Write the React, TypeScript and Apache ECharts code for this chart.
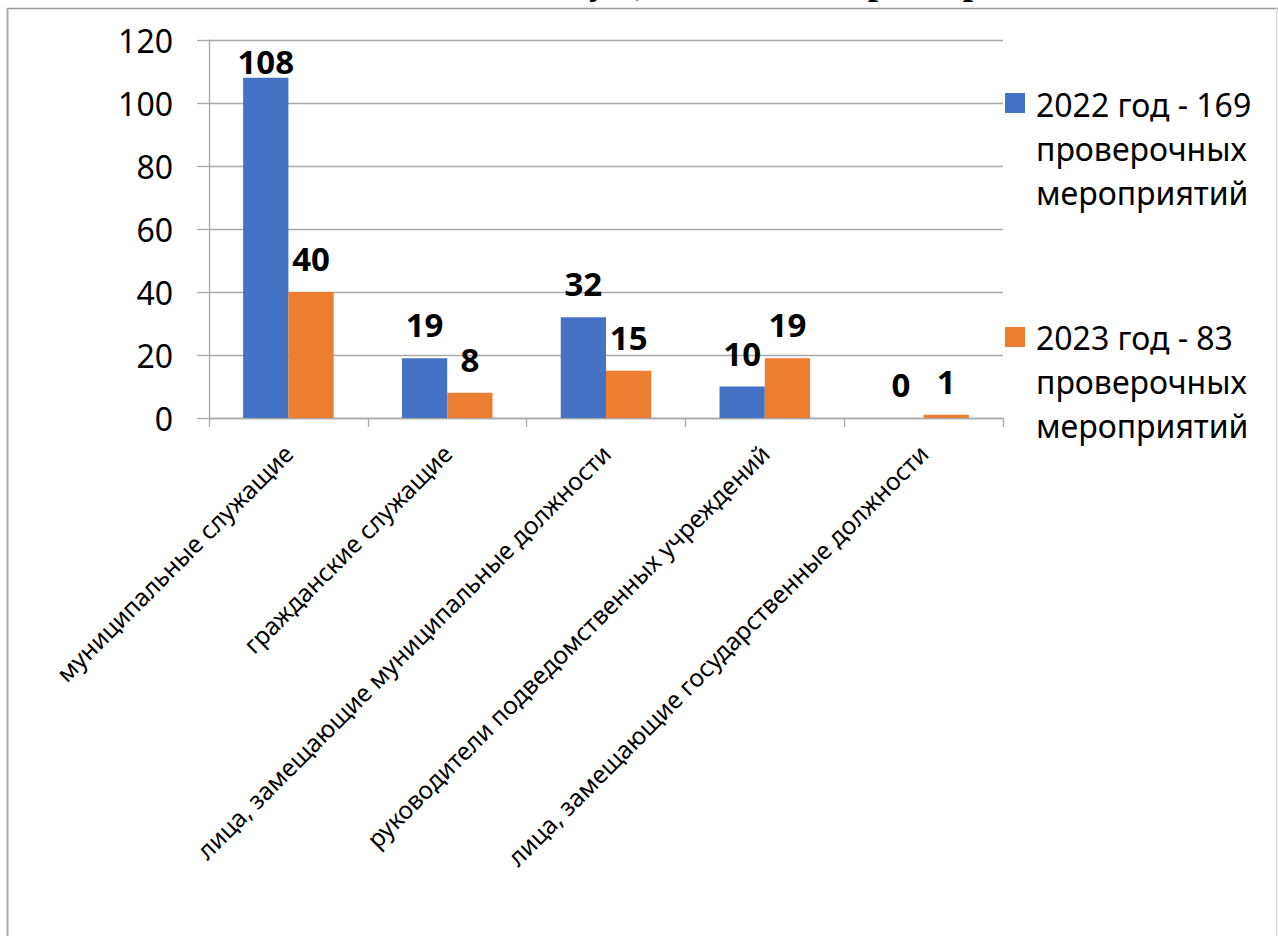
import React, { useEffect, useRef } from "react";
import * as echarts from "echarts";

const titleText = "обязательствах имущественного характера";

const categories = [
  "муниципальные служащие",
  "гражданские служащие",
  "лица, замещающие муниципальные должности",
  "руководители подведомственных учреждений",
  "лица, замещающие государственные должности",
];

const values2022 = [108, 19, 32, 10, 0];
const values2023 = [40, 8, 15, 19, 1];

const legend2022 = ["2022 год - 169", "проверочных", "мероприятий"];
const legend2023 = ["2023 год - 83", "проверочных", "мероприятий"];

const yTicks = { min: 0, max: 120, interval: 20 };

const BLUE = "#4472C4";
const ORANGE = "#ED7D31";
const GRID = "#A9A9A9";
const FONT = "'Noto Sans', sans-serif";

export default function App() {
  const ref = useRef<HTMLDivElement>(null);

  useEffect(() => {
    document.body.style.margin = "0";
    document.body.style.overflow = "hidden";
    if (!ref.current) return;
    const chart = echarts.init(ref.current, undefined, { renderer: "svg" });

    const labelStyle = {
      show: true,
      position: "top" as const,
      distance: 17,
      fontSize: 33,
      lineHeight: 33,
      fontWeight: "bold" as const,
      color: "#000",
      fontFamily: FONT,
    };

    const mk = (vals: number[]) =>
      vals.map((v) => (v >= yTicks.max - 15 ? { value: v, label: { distance: 0 } } : v));

    chart.setOption({
      animation: false,
      backgroundColor: "#fff",
      grid: { left: 209, top: 40, width: 794, height: 378, containLabel: false },
      xAxis: {
        type: "category",
        data: categories,
        axisLine: { show: true, lineStyle: { color: GRID, width: 1.3 } },
        axisTick: { show: true, length: 9, lineStyle: { color: GRID, width: 1.3 } },
        axisLabel: {
          interval: 0,
          rotate: 45,
          margin: 31,
          fontSize: 24.5,
          color: "#000",
          fontFamily: FONT,
        },
      },
      yAxis: {
        type: "value",
        min: yTicks.min,
        max: yTicks.max,
        interval: yTicks.interval,
        axisLine: { show: true, lineStyle: { color: GRID, width: 1.3 } },
        axisTick: { show: true, length: 12, lineStyle: { color: GRID, width: 1.3 } },
        splitLine: { show: true, lineStyle: { color: GRID, width: 1.3 } },
        axisLabel: { margin: 36, fontSize: 32, color: "#000", fontFamily: FONT },
      },
      series: [
        {
          name: legend2022.join(" "),
          type: "bar",
          data: mk(values2022),
          itemStyle: { color: BLUE },
          barGap: "0%",
          barCategoryGap: "43%",
          label: labelStyle,
        },
        {
          name: legend2023.join(" "),
          type: "bar",
          data: mk(values2023),
          itemStyle: { color: ORANGE },
          barGap: "0%",
          barCategoryGap: "43%",
          label: labelStyle,
        },
      ],
      graphic: [
        {
          type: "line",
          shape: { x1: 7, y1: 8.5, x2: 1278, y2: 8.5 },
          style: { stroke: "#9a9a9a", lineWidth: 1.5 },
          silent: true,
        },
        {
          type: "line",
          shape: { x1: 7.5, y1: 8, x2: 7.5, y2: 940 },
          style: { stroke: "#aaaaaa", lineWidth: 2 },
          silent: true,
        },
        {
          type: "line",
          shape: { x1: 1276.5, y1: 8, x2: 1276.5, y2: 940 },
          style: { stroke: "#d9d9d9", lineWidth: 1.5 },
          silent: true,
        },
        {
          type: "text",
          x: 640,
          y: -19,
          style: {
            text: titleText,
            fontFamily: "'Liberation Serif', serif",
            fontWeight: "bold",
            fontSize: 37,
            fill: "#000",
            align: "center",
            verticalAlign: "middle",
          },
          silent: true,
        },
        {
          type: "rect",
          shape: { x: 1005, y: 93, width: 20, height: 20 },
          style: { fill: BLUE },
          silent: true,
        },
        {
          type: "text",
          x: 1036,
          y: 82,
          style: {
            text: legend2022.join("\n"),
            fontFamily: FONT,
            fontSize: 32,
            lineHeight: 44,
            fill: "#000",
            align: "left",
            verticalAlign: "top",
          },
          silent: true,
        },
        {
          type: "rect",
          shape: { x: 1005, y: 327, width: 20, height: 20 },
          style: { fill: ORANGE },
          silent: true,
        },
        {
          type: "text",
          x: 1036,
          y: 315,
          style: {
            text: legend2023.join("\n"),
            fontFamily: FONT,
            fontSize: 32,
            lineHeight: 44,
            fill: "#000",
            align: "left",
            verticalAlign: "top",
          },
          silent: true,
        },
      ],
    });

    return () => chart.dispose();
  }, []);

  return <div ref={ref} style={{ width: 1278, height: 936 }} />;
}
